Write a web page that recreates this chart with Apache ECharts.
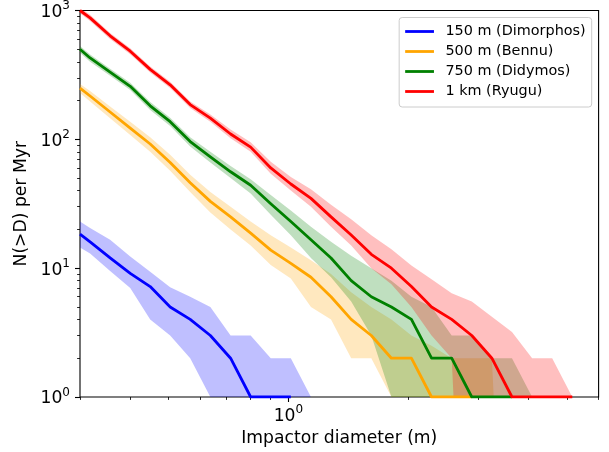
<!DOCTYPE html>
<html>
<head>
<meta charset="utf-8">
<title>Impactor flux</title>
<script src="https://cdn.jsdelivr.net/npm/echarts@6/dist/echarts.min.js"></script>
<style>
  html, body { margin: 0; padding: 0; background: #fff; }
  #chart { width: 609px; height: 452px; }
</style>
</head>
<body>
<div id="chart"></div>
<script>
// Impactor diameters (m) at which the cumulative counts are evaluated
const diameters = [0.3, 0.318, 0.357, 0.401, 0.450, 0.505, 0.567, 0.637, 0.716, 0.804, 0.903,
  1.014, 1.139, 1.279, 1.437, 1.614, 1.813, 2.035, 2.286, 2.568, 2.884, 3.239, 3.638,
  4.087, 4.589, 5.154, 5.789];

// N(>D) per Myr: median and spread band for each target body
const dimorphosMid = [18.4, 16, 12, 9.1, 7.2, 5, 4, 3, 2, 1, 1, 1, 0, 0, 0, 0, 0, 0, 0, 0, 0, 0, 0, 0, 0, 0, 0];
const dimorphosLo  = [14.5, 13, 9.5, 7, 4, 3, 2, 1, 0, 0, 0, 0, 0, 0, 0, 0, 0, 0, 0, 0, 0, 0, 0, 0, 0, 0, 0];
const dimorphosHi  = [23, 20.5, 16.6, 12.3, 9.4, 7.1, 6, 5, 3, 3, 2, 2, 1, 0, 0, 0, 0, 0, 0, 0, 0, 0, 0, 0, 0, 0, 0];

const bennuMid = [250, 217, 163, 122, 92, 66, 46, 33, 25, 18.7, 13.8, 10.9, 8.5, 6, 4, 3, 2, 2, 1, 1, 1, 0, 0, 0, 0, 0, 0];
const bennuLo  = [229, 197, 146, 108, 80, 57, 39, 27, 20, 15, 10.6, 8.3, 5, 4, 2, 2, 1, 0, 0, 0, 0, 0, 0, 0, 0, 0, 0];
const bennuHi  = [269, 237, 180, 137, 104, 76, 53, 39, 30, 23, 18, 14.5, 11.5, 9, 6.5, 5, 4, 3, 2.5, 2, 2, 2, 0, 0, 0, 0, 0];

const didymosMid = [500, 428, 332, 258, 182, 137, 96, 73, 56, 44, 31.6, 23, 16.6, 12, 8, 6, 5, 4, 2, 2, 1, 1, 1, 0, 0, 0, 0];
const didymosLo  = [470, 400, 311, 241, 169, 127, 88, 66, 50, 38, 26, 18, 12, 8.5, 5.5, 3, 1, 0, 0, 0, 0, 0, 0, 0, 0, 0, 0];
const didymosHi  = [530, 455, 353, 275, 195, 147, 104, 80, 62, 49, 37, 28, 21, 16, 12.5, 10, 8, 6, 5, 3, 3, 2, 2, 1, 0, 0, 0];

const ryuguMid = [1000, 877, 636, 483, 349, 265, 186, 146, 110, 87, 60, 45, 34.8, 25, 18.1, 12.8, 10, 7.2, 5, 4, 3, 2, 1, 1, 1, 1, 0];
const ryuguLo  = [950, 830, 602, 457, 330, 250, 175, 137, 102, 80, 54, 40, 30, 21, 15, 10, 7.5, 5, 3, 2, 0, 0, 0, 0, 0, 0, 0];
const ryuguHi  = [1050, 925, 670, 509, 368, 280, 197, 156, 119, 95, 67, 51, 41, 31, 24, 18, 14, 10.5, 8.2, 6.4, 5.5, 4.2, 3.2, 2, 2, 1, 0];

const seriesNames = ['150 m (Dimorphos)', '500 m (Bennu)', '750 m (Didymos)', '1 km (Ryugu)'];
const seriesColors = ['#0000ff', '#ffa500', '#008000', '#ff0000'];
const bandColors = ['rgba(0,0,255,0.25)', 'rgba(255,165,0,0.25)', 'rgba(0,128,0,0.25)', 'rgba(255,0,0,0.25)'];

// Axis tick positions
const xMajorTicks = [1];
const xMinorTicks = [0.3, 0.4, 0.5, 0.6, 0.7, 0.8, 0.9, 2, 3, 4, 5, 6];
const yMajorTicks = [1, 10, 100, 1000];
const yMinorTicks = [2, 3, 4, 5, 6, 7, 8, 9, 20, 30, 40, 50, 60, 70, 80, 90, 200, 300, 400, 500, 600, 700, 800, 900];

const mids = [dimorphosMid, bennuMid, didymosMid, ryuguMid];
const los = [dimorphosLo, bennuLo, didymosLo, ryuguLo];
const his = [dimorphosHi, bennuHi, didymosHi, ryuguHi];

// zero counts cannot sit on a log scale: push them far below the axis for the bands
const FLOOR = 1e-3;
const safe = v => (v > 0 ? v : FLOOR);

const FONT = 'DejaVu Sans';
const FS = 17.2;

function bandSeries(i) {
  const rows = diameters.map((d, k) => [d, safe(los[i][k]), safe(his[i][k])]);
  return {
    type: 'custom',
    name: seriesNames[i] + ' band',
    xAxisIndex: 0,
    yAxisIndex: 0,
    clip: true,
    silent: true,
    data: rows,
    encode: { x: 0, y: [1, 2] },
    renderItem: function (params, api) {
      if (params.dataIndex !== 0) return null;
      const n = params.dataInsideLength;
      const upper = [], lower = [];
      for (let k = 0; k < n; k++) {
        const x = api.value(0, k);
        upper.push(api.coord([x, api.value(2, k)]));
        lower.push(api.coord([x, api.value(1, k)]));
      }
      const pts = upper.concat(lower.reverse());
      return {
        type: 'polygon',
        shape: { points: pts },
        style: { fill: bandColors[i], stroke: null }
      };
    }
  };
}

function lineSeries(i) {
  return {
    type: 'line',
    name: seriesNames[i],
    xAxisIndex: 0,
    yAxisIndex: 0,
    data: diameters.map((d, k) => [d, mids[i][k] > 0 ? mids[i][k] : null]),
    showSymbol: false,
    symbol: 'none',
    clip: true,
    connectNulls: false,
    itemStyle: { color: seriesColors[i] },
    lineStyle: { color: seriesColors[i], width: 2.8, join: 'round', cap: 'butt' },
    emphasis: { disabled: true }
  };
}

const series = [];
for (let i = 0; i < 4; i++) {
  series.push(bandSeries(i));
  series.push(lineSeries(i));
}

const supFormatter = v => '{b|10}{s|' + Math.round(Math.log10(v)) + '}';
const supRich = {
  b: { fontFamily: FONT, fontSize: FS, color: '#000', verticalAlign: 'bottom' },
  s: { fontFamily: FONT, fontSize: 12, color: '#000', verticalAlign: 'bottom', padding: [0, 0, 9, 0] }
};

const chart = echarts.init(document.getElementById('chart'), null, { renderer: 'canvas' });
chart.setOption({
  animation: false,
  backgroundColor: '#ffffff',
  grid: {
    left: 80, right: 10.4, top: 10.5, bottom: 55,
    show: true, borderColor: '#000000', borderWidth: 1.1, backgroundColor: 'transparent',
    containLabel: false
  },
  legend: {
    orient: 'vertical',
    right: 17.3,
    top: 17.5,
    data: seriesNames.map(n => ({ name: n, icon: 'rect' })),
    itemWidth: 28.8,
    itemHeight: 2.8,
    itemGap: 4,
    padding: [6, 6, 7.5, 6],
    backgroundColor: 'rgba(255,255,255,0.8)',
    borderColor: '#cccccc',
    borderWidth: 1,
    borderRadius: 3,
    selectedMode: false,
    textStyle: { fontFamily: FONT, fontSize: 14.4, color: '#000', lineHeight: 16, padding: [0, 0, 0, 6.5] }
  },
  xAxis: [
    {
      type: 'log', logBase: 10, min: 0.3, max: 6, position: 'bottom',
      name: 'Impactor diameter (m)', nameLocation: 'middle', nameGap: 31,
      nameTextStyle: { fontFamily: FONT, fontSize: FS, color: '#000' },
      axisLine: { show: false },
      splitLine: { show: false },
      axisTick: { show: true, customValues: xMajorTicks, length: 5, lineStyle: { color: '#000', width: 1.1 } },
      axisLabel: { show: true, customValues: xMajorTicks, margin: 7, formatter: supFormatter, rich: supRich }
    },
    {
      type: 'log', logBase: 10, min: 0.3, max: 6, position: 'bottom', offset: 0,
      axisLine: { show: false },
      splitLine: { show: false },
      axisTick: { show: true, customValues: xMinorTicks, length: 2.9, lineStyle: { color: '#000', width: 0.85 } },
      axisLabel: { show: false }
    }
  ],
  yAxis: [
    {
      type: 'log', logBase: 10, min: 1, max: 1000, position: 'left',
      name: 'N(>D) per Myr', nameLocation: 'middle', nameGap: 49, nameRotate: 90,
      nameTextStyle: { fontFamily: FONT, fontSize: FS, color: '#000' },
      axisLine: { show: false },
      splitLine: { show: false },
      axisTick: { show: true, customValues: yMajorTicks, length: 5, lineStyle: { color: '#000', width: 1.1 } },
      axisLabel: { show: true, customValues: yMajorTicks, margin: 10, formatter: supFormatter, rich: supRich }
    },
    {
      type: 'log', logBase: 10, min: 1, max: 1000, position: 'left', offset: 0,
      axisLine: { show: false },
      splitLine: { show: false },
      axisTick: { show: true, customValues: yMinorTicks, length: 2.9, lineStyle: { color: '#000', width: 0.85 } },
      axisLabel: { show: false }
    }
  ],
  series: series
});
</script>
</body>
</html>
